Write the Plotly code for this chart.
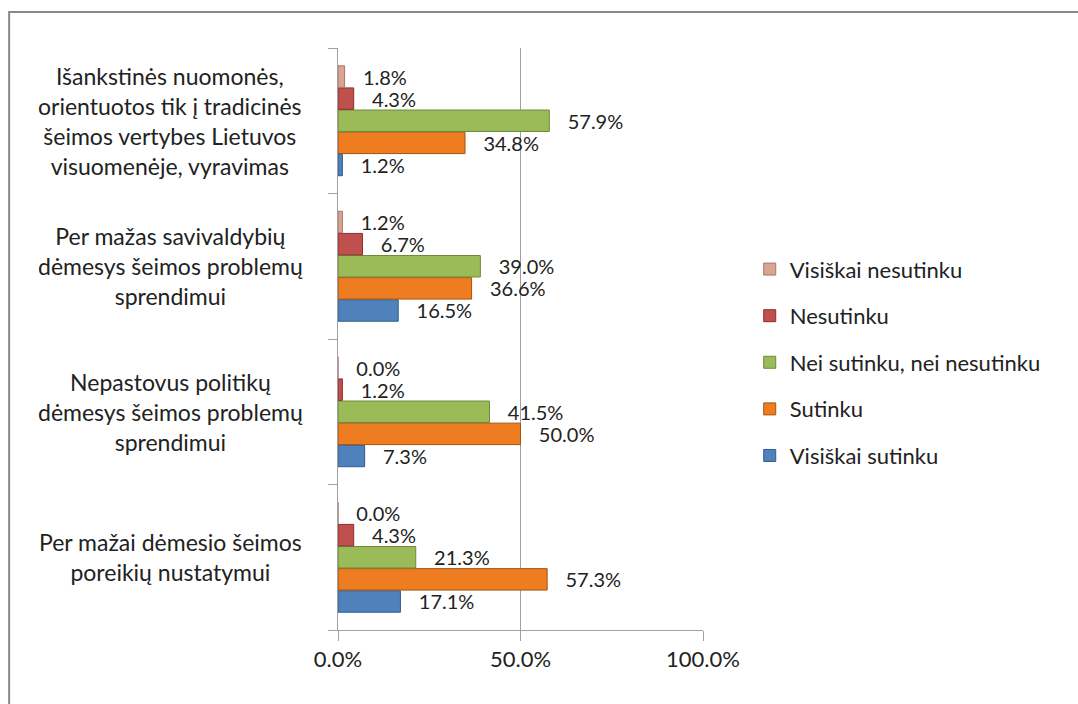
import plotly.graph_objects as go

# categories from bottom to top
categories = [
    "Per mažai dėmesio šeimos<br>poreikių nustatymui",
    "Nepastovus politikų<br>dėmesys šeimos problemų<br>sprendimui",
    "Per mažas savivaldybių<br>dėmesys šeimos problemų<br>sprendimui",
    "Išankstinės nuomonės,<br>orientuotos tik į tradicinės<br>šeimos vertybes Lietuvos<br>visuomenėje, vyravimas",
]

series_names = ["Visiškai sutinku", "Sutinku", "Nei sutinku, nei nesutinku",
                "Nesutinku", "Visiškai nesutinku"]
visiskai_sutinku = [17.1, 7.3, 16.5, 1.2]
sutinku = [57.3, 50.0, 36.6, 34.8]
nei_nei = [21.3, 41.5, 39.0, 57.9]
nesutinku = [4.3, 1.2, 6.7, 4.3]
visiskai_nesutinku = [0.0, 0.0, 1.2, 1.8]

x_ticks = [0, 50, 100]
x_ticktext = ["0.0%", "50.0%", "100.0%"]

fills = ["#4F81BD", "#EE7D22", "#9BBB59", "#C0504D", "#D9A591"]
edges = ["#2E5C8F", "#A8520E", "#6E8A36", "#8C2F2C", "#A8776A"]

FONT = "Lato, 'Open Sans', sans-serif"

fig = go.Figure()
for i, (name, vals, fc, ec) in enumerate(zip(
        series_names,
        [visiskai_sutinku, sutinku, nei_nei, nesutinku, visiskai_nesutinku],
        fills, edges)):
    fig.add_trace(go.Bar(
        y=categories, x=vals, name=name, orientation="h",
        legendgroup=f"g{i}", legendrank=10 - i,
        marker=dict(color=fc, line=dict(color=ec, width=1)),
        text=[f"{v:.1f}%" for v in vals],
        texttemplate="   %{text}",
        textposition="outside",
        constraintext="none",
        textfont=dict(size=20, color="#222"),
        cliponaxis=False,
    ))

# centered category labels
for c in categories:
    fig.add_annotation(x=-0.46, y=c, xref="paper", yref="y", text=c,
                       showarrow=False, xanchor="center", align="center",
                       font=dict(size=23, color="#222", family=FONT))

# outer frame
fig.add_shape(type="rect", xref="paper", yref="paper",
              x0=-0.901, x1=2.1, y0=-0.2, y1=1.062,
              line=dict(color="#888888", width=2))

fig.update_layout(
    width=1078, height=704,
    margin=dict(l=338, r=375, t=48, b=74),
    paper_bgcolor="white", plot_bgcolor="white",
    barmode="group", bargap=0.24, bargroupgap=0.03,
    font=dict(family=FONT, size=22, color="#222"),
    showlegend=True,
    legend=dict(traceorder="grouped", x=1.128, y=0.46, yanchor="middle",
                xanchor="left", font=dict(size=22), tracegroupgap=15,
                itemwidth=30),
    xaxis=dict(range=[0, 100], tickvals=x_ticks, ticktext=x_ticktext,
               showgrid=True, gridcolor="#A0A0A0",
               gridwidth=1, zeroline=False, showline=True, linecolor="#A0A0A0",
               ticks="outside", ticklen=10, tickcolor="#A0A0A0",
               tickfont=dict(size=22), fixedrange=True),
    yaxis=dict(showticklabels=False, showline=True, linecolor="#A0A0A0",
               ticks="outside", tickson="boundaries", ticklen=9,
               tickcolor="#A0A0A0", showgrid=False, fixedrange=True),
)

fig.write_html("out.html", config={"displayModeBar": False},
               post_script="document.body.style.margin='0';")
